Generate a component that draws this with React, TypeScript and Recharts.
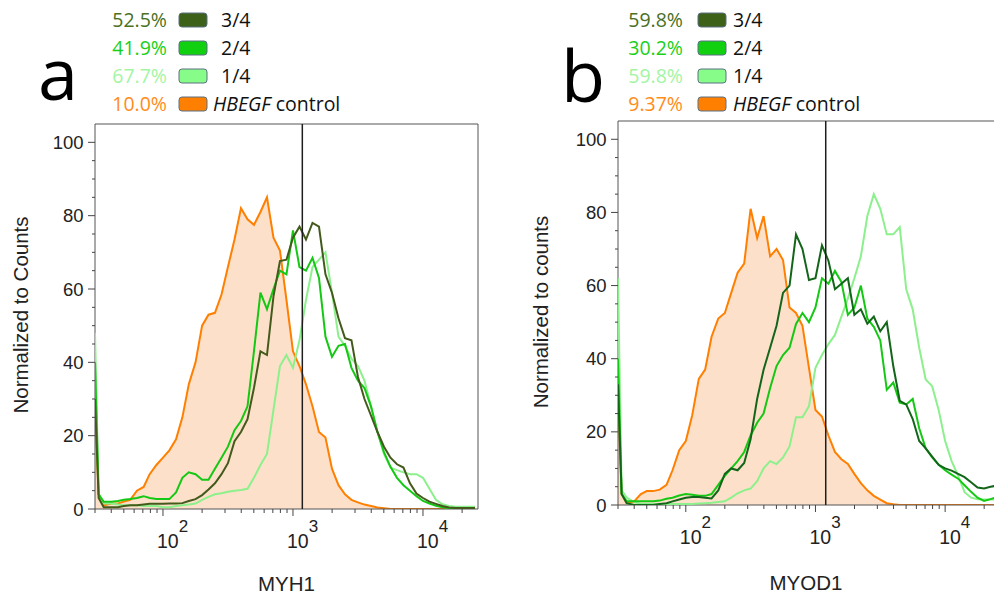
import React from "react";
import {
  ComposedChart,
  Area,
  Line,
  XAxis,
  YAxis,
  ReferenceLine,
  ReferenceArea,
} from "recharts";

// fluorescence channel grid (shared by both panels)
const fluor = [
  30, 32, 35, 40, 45, 50, 56, 63, 71, 79,
  89, 100, 112, 126, 141, 158, 178, 200, 224, 251,
  282, 316, 355, 398, 447, 501, 562, 631, 708, 794,
  891, 1000, 1122, 1259, 1413, 1585, 1778, 1995, 2239, 2512,
  2818, 3162, 3548, 3981, 4467, 5012, 5623, 6310, 7079, 7943,
  8913, 10000, 11220, 12589, 14125, 15849, 17783, 19953, 22387, 25119,
];

// panel a: MYH1
const myh1Control = [
  29, 4, 1, 1.5, 1.5, 2, 2.5, 5, 6, 9.5,
  12, 14, 16, 19, 25, 34, 40, 50, 53, 53.5,
  58.5, 66, 73.5, 82, 79, 77.5, 81, 85, 74, 70.5,
  57, 43, 39, 34, 28, 21, 19.5, 11, 6.5, 4,
  2.5, 1.8, 1.2, 0.8, 0.4, 0.2, 0, 0, 0, 0,
  0, 0, 0, 0, 0, 0, 0, 0, 0, 0,
];
const myh1Dose3 = [
  30, 3, 0.5, 0.5, 0.5, 0.8, 1, 1, 1.2, 1.4,
  1.4, 1.4, 1.5, 1.5, 1.6, 2.2, 2.7, 3.8, 5.3, 7,
  9.5, 12.5, 18.5, 21, 24.5, 33, 43, 42, 58, 67.6,
  68, 74, 77, 73.5, 78, 77, 64, 59, 52, 46.6,
  46, 36, 30, 25.5, 21, 17, 14, 12.2, 11.3, 7,
  4.2, 3, 2, 1.4, 0.8, 0.4, 0.3, 0.3, 0.3, 0.3,
];
const myh1Dose2 = [
  40, 4, 2, 2, 2.2, 2.5, 2.7, 3, 3.5, 3,
  2.7, 2.7, 2.7, 4.5, 8.5, 10, 9.5, 8, 8, 11,
  14, 17, 21.5, 24, 28, 43, 59, 54.5, 60, 65,
  64, 76, 66, 65, 68.5, 63, 47, 41.5, 44.5, 45,
  38.5, 35, 33, 28, 21, 15.5, 11.5, 8.5, 6.5, 5,
  3.5, 2.2, 1.5, 0.9, 0.5, 0.3, 0.3, 0.3, 0.3, 0.3,
];
const myh1Dose1 = [
  48, 4, 1.5, 1.5, 1.2, 1, 1, 1, 0.8, 0.8,
  0.8, 0.5, 0.5, 0.8, 1, 1.2, 1.5, 2.5, 3.3, 4,
  4.3, 4.7, 5, 5.2, 5.5, 8.5, 12, 15, 27, 39,
  42, 38.5, 46, 57, 66, 68, 70, 59, 47, 44.5,
  41, 39, 35, 28, 21, 15, 11.3, 10.6, 10, 9.5,
  9.5, 8.5, 5.5, 2.5, 1.3, 0.8, 0.6, 0.6, 0.6, 0.6,
];

// panel b: MYOD1
const myod1Control = [
  30, 3, 0.5, 1, 3, 3.8, 3.8, 4.2, 5.5, 9.5,
  15, 17.5, 24.5, 34.5, 37, 46, 51, 52.5, 58, 63.5,
  66, 81, 73, 79, 68, 70, 67, 54, 52.5, 49,
  37.5, 26, 24.2, 19, 14.5, 12.5, 11.2, 8.5, 6, 4,
  2.5, 1.5, 0.5, 0.2, 0, 0, 0, 0, 0, 0,
  0, 0, 0, 0, 0, 0, 0, 0, 0, 0,
];
const myod1Dose3 = [
  33, 3, 0.5, 0, 0, 0, 0, 0.3, 0.5, 1,
  1.5, 2, 2.2, 2.2, 2, 1.8, 4, 8.5, 10, 9.5,
  11.5, 18, 29, 37, 43, 49, 58, 60, 74, 70,
  61.5, 62, 71, 66.8, 59, 60.5, 62, 52, 53.5, 49.6,
  51.5, 47.5, 50, 38, 28.5, 27.5, 23.5, 17.5, 15.5, 13.2,
  11, 10, 9.4, 8.5, 7.6, 6.2, 4.8, 4.5, 5, 5.3,
];
const myod1Dose2 = [
  40, 3, 1, 1, 1, 1, 1, 1.2, 1.7, 2,
  2.6, 3, 2.8, 2.5, 2.5, 3, 5.5, 8, 10, 12,
  14.5, 19, 22.5, 25, 32, 38, 41, 43, 49.5, 52.5,
  50, 54, 62, 60.5, 64, 61, 52, 54, 60, 51,
  48.7, 45, 31.5, 33.5, 28, 27.5, 29, 21, 15.5, 13,
  11, 9.5, 8.3, 7.2, 5.4, 3.6, 2, 1.1, 1.6, 2.2,
];
const myod1Dose1 = [
  62, 4, 2, 0.8, 0.3, 0.3, 0.3, 0.3, 0.3, 0.3,
  0.3, 0.3, 0.3, 0.4, 0.5, 0.6, 0.8, 1, 2, 3.2,
  4, 4.5, 6.5, 10, 12, 11.2, 13, 16, 24, 24,
  27, 37.5, 41, 44, 46.5, 51.5, 56.5, 62, 68, 79,
  85, 81, 74, 74, 76, 59, 53.5, 43, 34.3, 32.5,
  26, 17.5, 12, 8, 3.5, 2, 1.6, 1.5, 1.5, 1.5,
];

const xTicks = [
  30, 40, 50, 60, 70, 80, 90,
  100, 200, 300, 400, 500, 600, 700, 800, 900,
  1000, 2000, 3000, 4000, 5000, 6000, 7000, 8000, 9000,
  10000, 20000,
];
const decadeLabels: Record<number, string> = { 100: "2", 1000: "3", 10000: "4" };
const yTicks = [0, 5, 10, 15, 20, 25, 30, 35, 40, 45, 50, 55, 60, 65, 70, 75, 80, 85, 90, 95, 100];

const legendLabels = ["3/4", "2/4", "1/4", "control"];
const myh1Pct = ["52.5%", "41.9%", "67.7%", "10.0%"];
const myod1Pct = ["59.8%", "30.2%", "59.8%", "9.37%"];

const myh1Gate = 1180;
const myod1Gate = 1200;

const ORANGE = "#ff7f00";
const PEACH = "#fde0c9";
const GREEN = "#14c814";
const LIGHT = "#8cf08c";
const swatchColors = ["#3d6118", "#10d010", "#88fc88", "#ff7f00"];
const pctColors = ["#4a7022", "#19d019", "#a3f5a3", "#ff8c1a"];

const AXIS_FONT = "'Liberation Sans', Arial, sans-serif";
const LEGEND_FONT = "'Open Sans', sans-serif";
const H = 599;

interface PanelProps {
  left: number;
  width: number;
  top: number;
  yWidth: number;
  xHeight: number;
  right: number;
  domain: [number, number];
  control: number[];
  d3: number[];
  d2: number[];
  d1: number[];
  darkColor: string;
  gate: number;
}

function Panel(p: PanelProps) {
  const rows = fluor.map((x, i) => ({
    x,
    control: p.control[i],
    d3: p.d3[i],
    d2: p.d2[i],
    d1: p.d1[i],
  }));
  const plotLeft = p.yWidth;
  const plotBottom = H - p.xHeight;

  const XTick = (props: any) => {
    const { x, payload } = props;
    const exp = decadeLabels[payload.value];
    return (
      <g>
        <line x1={x} x2={x} y1={plotBottom} y2={plotBottom + (exp ? 7 : 4)} stroke="#444" />
        {exp && (
          <text x={x - 6} y={plotBottom + 39} fontSize={19.5} fontFamily={AXIS_FONT} fill="#222">
            10
            <tspan dy={-16} fontSize={17}>{exp}</tspan>
          </text>
        )}
      </g>
    );
  };

  const YTick = (props: any) => {
    const { y, payload } = props;
    const major = payload.value % 20 === 0;
    return (
      <g>
        <line x1={plotLeft - (major ? 7 : 3)} x2={plotLeft} y1={y} y2={y} stroke="#444" />
        {major && (
          <text x={plotLeft - 11.5} y={y + 6.6} textAnchor="end" fontSize={18.5} fontFamily={AXIS_FONT} fill="#222">
            {payload.value}
          </text>
        )}
      </g>
    );
  };

  return (
    <div style={{ position: "absolute", left: p.left, top: 0 }}>
      <ComposedChart
        width={p.width}
        height={H}
        data={rows}
        margin={{ top: p.top, right: p.right, left: 0, bottom: 0 }}
      >
        <XAxis
          dataKey="x"
          type="number"
          scale="log"
          domain={p.domain}
          allowDataOverflow
          ticks={xTicks}
          interval={0}
          height={p.xHeight}
          axisLine={false}
          tickLine={false}
          tick={XTick}
        />
        <YAxis
          type="number"
          domain={[0, 105]}
          allowDataOverflow
          ticks={yTicks}
          interval={0}
          width={p.yWidth}
          axisLine={false}
          tickLine={false}
          tick={YTick}
        />
        <Area
          type="linear"
          dataKey="control"
          stroke={ORANGE}
          strokeWidth={2}
          fill={PEACH}
          fillOpacity={1}
          dot={false}
          activeDot={false}
          isAnimationActive={false}
        />
        <Line type="linear" dataKey="d1" stroke={LIGHT} strokeWidth={2} dot={false} activeDot={false} isAnimationActive={false} />
        <Line type="linear" dataKey="d2" stroke={GREEN} strokeWidth={2} dot={false} activeDot={false} isAnimationActive={false} />
        <Line type="linear" dataKey="d3" stroke={p.darkColor} strokeWidth={2} dot={false} activeDot={false} isAnimationActive={false} />
        <ReferenceLine x={p.gate} stroke="#1e1e1e" strokeWidth={1.5} />
        <ReferenceArea
          x1={p.domain[0]}
          x2={p.domain[1]}
          y1={0}
          y2={105}
          fill="none"
          fillOpacity={0}
          stroke="#555"
          strokeWidth={1}
          ifOverflow="visible"
        />
      </ComposedChart>
    </div>
  );
}

function LegendBlock({ pcts, pctRight, swatchX, labelX, controlX }: {
  pcts: string[]; pctRight: number; swatchX: number; labelX: number; controlX: number;
}) {
  return (
    <g fontFamily={LEGEND_FONT} fontSize={19.5}>
      {legendLabels.map((lab, i) => {
        const cy = 20 + i * 28;
        return (
          <g key={lab}>
            <text x={pctRight} y={cy + 7} textAnchor="end" fill={pctColors[i]}>{pcts[i]}</text>
            <rect x={swatchX} y={cy - 7} width={28} height={14} rx={3} fill={swatchColors[i]} stroke="#5b7083" strokeWidth={1} />
            {lab === "control" ? (
              <text x={controlX} y={cy + 7} fill="#111">
                <tspan fontStyle="italic">HBEGF</tspan> control
              </text>
            ) : (
              <text x={labelX} y={cy + 7} fill="#111">{lab}</text>
            )}
          </g>
        );
      })}
    </g>
  );
}

export default function App() {
  return (
    <div
      style={{
        position: "absolute",
        left: 0,
        top: 0,
        width: 994,
        height: 599,
        overflow: "hidden",
        background: "#fff",
      }}
    >
      <Panel
        left={0}
        width={500}
        top={124}
        yWidth={95}
        xHeight={90}
        right={22}
        domain={[30, 26500]}
        control={myh1Control}
        d3={myh1Dose3}
        d2={myh1Dose2}
        d1={myh1Dose1}
        darkColor="#435a1c"
        gate={myh1Gate}
      />
      <Panel
        left={520}
        width={480}
        top={121}
        yWidth={98}
        xHeight={94}
        right={3}
        domain={[30, 25119]}
        control={myod1Control}
        d3={myod1Dose3}
        d2={myod1Dose2}
        d1={myod1Dose1}
        darkColor="#13651a"
        gate={myod1Gate}
      />
      <svg
        width={994}
        height={599}
        style={{ position: "absolute", left: 0, top: 0, pointerEvents: "none" }}
      >
        <text x={38} y={100} fontSize={72} fontFamily={LEGEND_FONT} fill="#000">a</text>
        <text x={561} y={102} fontSize={72} fontFamily={LEGEND_FONT} fill="#000">b</text>
        <LegendBlock pcts={myh1Pct} pctRight={167} swatchX={179} labelX={221} controlX={213} />
        <LegendBlock pcts={myod1Pct} pctRight={683} swatchX={698} labelX={733} controlX={733} />
        <text x={286.5} y={591} textAnchor="middle" fontSize={20.5} fontFamily={AXIS_FONT} fill="#222">MYH1</text>
        <text x={806} y={590} textAnchor="middle" fontSize={20.5} fontFamily={AXIS_FONT} fill="#222">MYOD1</text>
        <text x={28} y={315} transform="rotate(-90 28 315)" textAnchor="middle" fontSize={20.5} fontFamily={AXIS_FONT} fill="#222">
          Normalized to Counts
        </text>
        <text x={548} y={312} transform="rotate(-90 548 312)" textAnchor="middle" fontSize={20.5} fontFamily={AXIS_FONT} fill="#222">
          Normalized to counts
        </text>
      </svg>
    </div>
  );
}
